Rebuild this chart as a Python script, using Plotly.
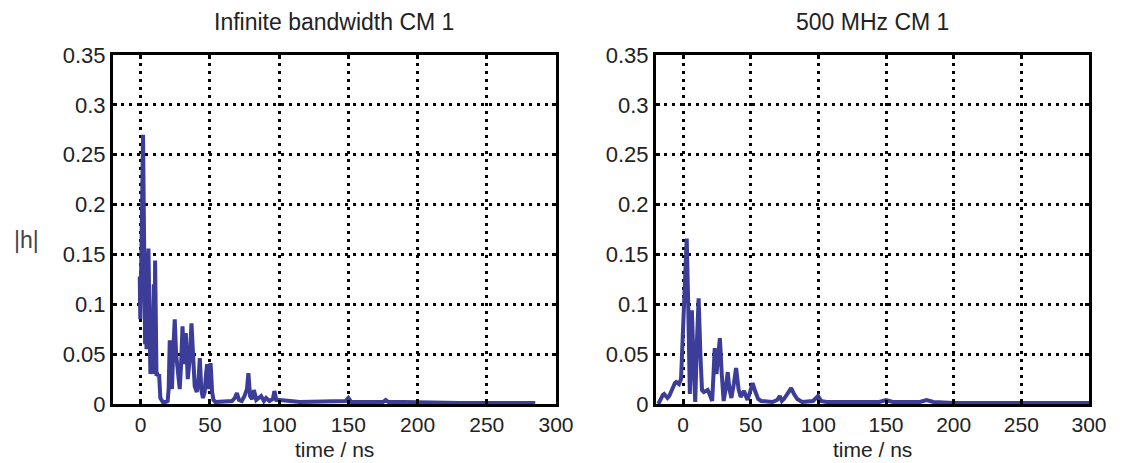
import plotly.graph_objects as go

# ---- data ----
t_inf = [-0.7, -0.3, 0.2, 0.8, 1.2, 1.7, 2.2, 2.7, 3.2, 3.7, 4.2, 4.7, 5.2, 5.6, 6.0, 6.5,
         7.0, 7.5, 8.0, 8.5, 9.0, 9.5, 10.0, 10.4, 10.9, 11.4, 12.0, 12.6, 13.3, 14.2, 15,
         16, 18, 19.5, 20.2, 21.0, 21.8, 22.6, 23.4, 24.6, 25.6, 27.0, 28.2, 29.2, 30.2,
         31.4, 32.6, 34.0, 35.4, 36.7, 37.8, 39.0, 40.5, 41.8, 42.7, 43.8, 45.0, 46.2,
         47.2, 48.0, 49.2, 50.5, 51.6, 52.6, 54, 58, 62, 66, 68, 69.5, 71, 73, 75, 76.8,
         77.8, 79, 80.5, 81.8, 83.5, 85, 87, 89, 90.6, 93, 95.5, 96.6, 98, 100, 103, 108,
         115, 125, 135, 145, 148, 150, 152, 160, 170, 175, 177, 179, 190, 210, 230, 250,
         270, 285]
h_inf = [0.128, 0.085, 0.120, 0.200, 0.250, 0.270, 0.200, 0.110, 0.060, 0.120, 0.055,
         0.090, 0.130, 0.156, 0.120, 0.060, 0.030, 0.090, 0.040, 0.030, 0.080, 0.120, 0.030,
         0.144, 0.090, 0.030, 0.030, 0.028, 0.030, 0.006, 0.004, 0.002, 0.002, 0.003, 0.015,
         0.064, 0.030, 0.015, 0.050, 0.085, 0.050, 0.035, 0.015, 0.040, 0.078, 0.040, 0.071,
         0.025, 0.045, 0.081, 0.040, 0.018, 0.012, 0.025, 0.046, 0.014, 0.006, 0.012, 0.030,
         0.040, 0.015, 0.041, 0.012, 0.004, 0.002, 0.002, 0.002, 0.003, 0.006, 0.011, 0.004,
         0.003, 0.008, 0.015, 0.031, 0.008, 0.005, 0.014, 0.004, 0.006, 0.008, 0.003, 0.006,
         0.003, 0.005, 0.013, 0.004, 0.004, 0.004, 0.003, 0.002, 0.002, 0.002, 0.002, 0.003,
         0.006, 0.002, 0.002, 0.002, 0.002, 0.004, 0.002, 0.002, 0.001, 0.001, 0.001, 0.001,
         0.001]

t_500 = [-18.3, -17, -16, -15, -14, -12.8, -11.5, -10.2, -9, -8, -7, -6, -5, -3, -1.5, -0.5,
         0.5, 1.7, 2.7, 3.8, 5.0, 5.8, 6.5, 7.8, 9.0, 10.2, 11.5, 12.8, 14.0, 15.4, 16.7,
         18.2, 19.6, 21.5, 22.5, 23.4, 24.7, 26.0, 27.2, 28.6, 30.0, 31.5, 33.0, 34.3, 35.7,
         37.5, 39.2, 41.0, 42.6, 45.0, 47.6, 49.5, 51.4, 53.5, 55.5, 57.7, 62, 66, 69.5,
         71.5, 73, 74.5, 77, 79.9, 82, 84.4, 88, 92, 96, 99.8, 102, 106, 115, 130, 145, 150,
         155, 165, 175, 180, 185, 200, 220, 240, 260, 280, 300]
h_500 = [0.0, 0.004, 0.008, 0.009, 0.010, 0.008, 0.006, 0.008, 0.012, 0.016, 0.020, 0.021,
         0.022, 0.02, 0.025, 0.06, 0.11, 0.15, 0.166, 0.10, 0.010, 0.05, 0.094, 0.04, 0.002,
         0.06, 0.106, 0.05, 0.014, 0.012, 0.013, 0.014, 0.010, 0.003, 0.03, 0.056, 0.030,
         0.05, 0.066, 0.03, 0.003, 0.015, 0.032, 0.015, 0.006, 0.02, 0.036, 0.015, 0.007,
         0.013, 0.004, 0.012, 0.021, 0.012, 0.005, 0.003, 0.002, 0.002, 0.004, 0.008, 0.003,
         0.005, 0.010, 0.016, 0.010, 0.005, 0.002, 0.002, 0.003, 0.008, 0.003, 0.002, 0.002,
         0.002, 0.002, 0.004, 0.002, 0.002, 0.002, 0.004, 0.002, 0.001, 0.001, 0.001, 0.001,
         0.001, 0.001]

titles = ["Infinite bandwidth CM 1", "500 MHz CM 1"]
x_title = "time / ns"
y_title = "|h|"
x_ticks = [0, 50, 100, 150, 200, 250, 300]
y_ticks = [0, 0.05, 0.1, 0.15, 0.2, 0.25, 0.3, 0.35]

LINE = "#3b3d99"
TXT = "#222222"
FONT = "Liberation Sans"

# page body has an 8px margin; lay the figure out in screenshot pixels minus 8
OFF = 8
W, H = 1124 - 2 * OFF, 463 - OFF

def px_x(p):
    return (p - OFF) / W

def px_y(p):
    return 1 - (p - OFF) / H

left_dom = [px_x(113), px_x(556)]
right_dom = [px_x(656), px_x(1089)]
y_dom = [px_y(404), px_y(55)]

fig = go.Figure()
fig.add_trace(go.Scatter(x=t_inf, y=h_inf, mode="lines", xaxis="x", yaxis="y",
                         line=dict(color=LINE, width=4), showlegend=False))
fig.add_trace(go.Scatter(x=t_500, y=h_500, mode="lines", xaxis="x2", yaxis="y2",
                         line=dict(color=LINE, width=4), showlegend=False))

GRID = dict(showgrid=True, gridcolor="black", griddash="3px,5px", gridwidth=2.5,
            showline=True, linecolor="black", linewidth=3, mirror="ticks",
            ticks="inside", ticklen=4, tickwidth=2.5, tickcolor="black",
            zeroline=False, automargin=False)

def xax(dom, anchor):
    return dict(domain=dom, anchor=anchor, range=[-20, 300], tickvals=x_ticks,
                tickfont=dict(size=21, color=TXT, family=FONT), **GRID)

def yax(anchor):
    return dict(domain=y_dom, anchor=anchor, range=[0, 0.35], tickvals=y_ticks,
                tickfont=dict(size=22, color=TXT, family=FONT), **GRID)

fig.update_layout(
    width=W, height=H,
    margin=dict(l=0, r=0, t=0, b=0),
    paper_bgcolor="white", plot_bgcolor="white",
    xaxis=xax(left_dom, "y"), yaxis=yax("x"),
    xaxis2=xax(right_dom, "y2"), yaxis2=yax("x2"),
    font=dict(family=FONT, color=TXT),
)

for i, dom in enumerate([left_dom, right_dom]):
    cx = sum(dom) / 2
    fig.add_annotation(text=titles[i], x=cx, y=1, xref="paper", yref="paper",
                       xanchor="center", yanchor="top", showarrow=False, borderpad=0,
                       font=dict(size=23, color=TXT, family=FONT))
    fig.add_annotation(text=x_title, x=cx, y=px_y(449), xref="paper", yref="paper",
                       xanchor="center", yanchor="middle", showarrow=False, borderpad=0,
                       font=dict(size=21, color=TXT, family=FONT))
fig.add_annotation(text=y_title, x=px_x(26), y=px_y(240), xref="paper", yref="paper",
                   xanchor="center", yanchor="middle", showarrow=False,
                   font=dict(size=23, color="#444444", family=FONT))

fig.write_html("out.html")
